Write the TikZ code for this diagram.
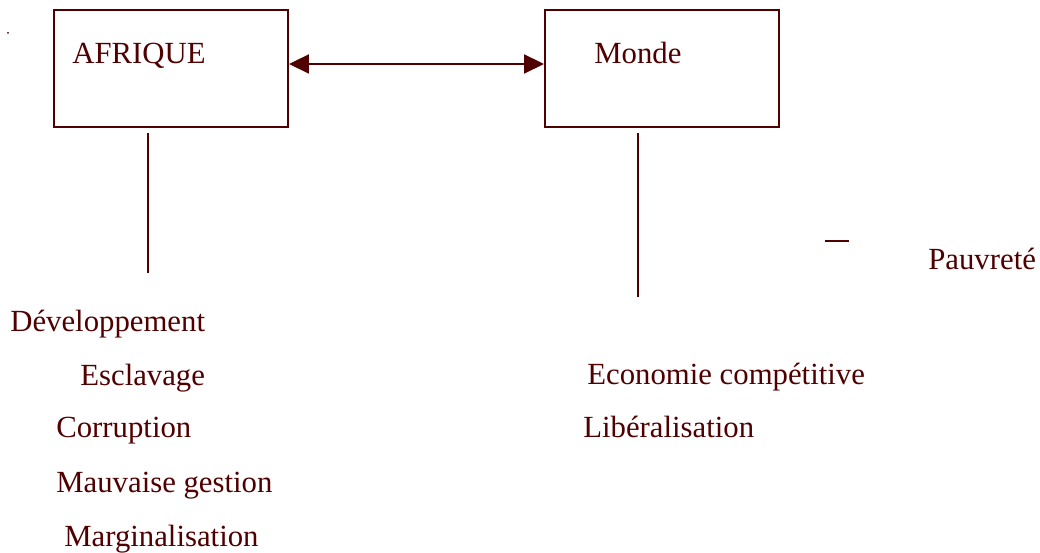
\documentclass[tikz,border=0pt]{standalone}
\usepackage{fontspec}
\setmainfont{Liberation Serif}
\usetikzlibrary{arrows.meta}
\definecolor{bordeaux}{RGB}{80,0,0}
\begin{document}
\begin{tikzpicture}[
    boite/.style={draw=bordeaux, line width=1.1pt, minimum width=4.68cm, minimum height=2.34cm, inner sep=0pt},
    mot/.style={anchor=base west, inner sep=0pt, text=bordeaux, font=\fontsize{17.5}{21}\selectfont},
    trait/.style={draw=bordeaux, line width=1.1pt}
  ]
    \useasboundingbox (0,0) rectangle (20.8,11.06);

    % les deux cadres
    \node[boite] (afrique) at (3.42,9.69) {};
    \node[boite] (monde) at (13.24,9.69) {};
    \node[mot] (lafrique) at (1.44,9.78) {AFRIQUE};
    \node[mot] (lmonde) at (11.88,9.78) {Monde};

    % fleche double entre les cadres
    \draw[trait, {Triangle[length=0.4cm,width=0.38cm]}-{Triangle[length=0.4cm,width=0.38cm]}]
        ([yshift=0.09cm]afrique.east) -- ([yshift=0.09cm]monde.west);

    % traits verticaux sous les cadres
    \coordinate (g1) at (2.96,8.4);
    \coordinate (g2) at (2.96,5.6);
    \coordinate (d1) at (12.76,8.4);
    \coordinate (d2) at (12.76,5.12);
    \draw[trait] (g1) -- (g2);
    \draw[trait] (d1) -- (d2);

    % petit tiret et point
    \coordinate (t1) at (16.5,6.24);
    \coordinate (t2) at (16.98,6.24);
    \draw[trait, line width=1.6pt] (t1) -- (t2);
    \fill[bordeaux] (0.16,10.4) circle (0.02);

    % textes cote Afrique
    \node[mot] (dev) at (0.2,4.42) {Développement};
    \node[mot] (escl) at (1.6,3.34) {Esclavage};
    \node[mot] (corr) at (1.12,2.30) {Corruption};
    \node[mot] (gest) at (1.12,1.20) {Mauvaise gestion};
    \node[mot] (marg) at (1.28,0.12) {Marginalisation};

    % textes cote Monde
    \node[mot] (eco) at (11.74,3.36) {Economie compétitive};
    \node[mot] (lib) at (11.66,2.30) {Libéralisation};
    \node[mot] (pauv) at (18.56,5.66) {Pauvreté};

\end{tikzpicture}
\end{document}
